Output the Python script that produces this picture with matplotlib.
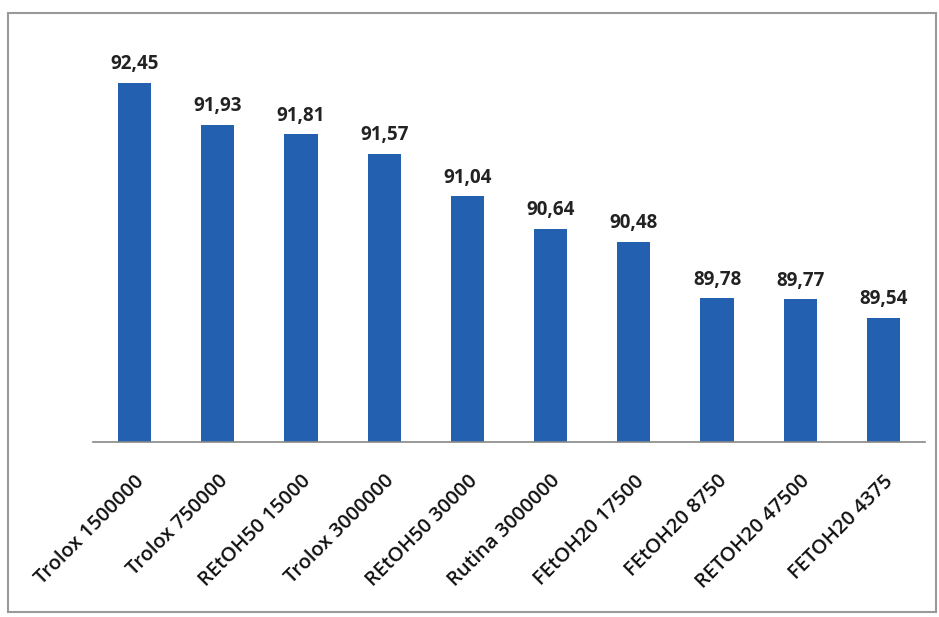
import matplotlib.pyplot as plt
from matplotlib.patches import Rectangle

# data
categorias = ['Trolox 1500000', 'Trolox 750000', 'REtOH50 15000', 'Trolox 3000000',
              'REtOH50 30000', 'Rutina 3000000', 'FEtOH20 17500', 'FEtOH20 8750',
              'RETOH20 47500', 'FETOH20 4375']
valores = [92.45, 91.93, 91.81, 91.57, 91.04, 90.64, 90.48, 89.78, 89.77, 89.54]

plt.rcParams['font.family'] = ['Open Sans', 'DejaVu Sans']

W, H = 939, 617
fig = plt.figure(figsize=(W / 100, H / 100), dpi=100)
ax = fig.add_axes([93 / W, 1 - 442 / H, (925 - 93) / W, (442 - 60) / H])

x = range(len(categorias))
bars = ax.bar(x, valores, width=0.4, color='#2360B0', bottom=0)
ax.set_xlim(-0.5, len(categorias) - 0.5)
ax.set_ylim(88.0, 92.73)

for xi, v in zip(x, valores):
    ax.annotate(f'{v:.2f}'.replace('.', ','), (xi, v), xytext=(0, 6),
                textcoords='offset points', ha='center', va='bottom',
                fontsize=13.5, fontweight='bold', color='#222222')

ax.set_xticks(list(x))
ax.set_xticklabels(categorias, rotation=45, ha='right', rotation_mode='anchor',
                   fontsize=14.5, fontweight='semibold', color='#111111')
ax.tick_params(axis='x', length=0, pad=21)
ax.set_yticks([])
for s in ['left', 'right', 'top']:
    ax.spines[s].set_visible(False)
ax.spines['bottom'].set_color('#888888')
ax.spines['bottom'].set_linewidth(1.2)

# outer frame
fig.patches.append(Rectangle((8 / W, 1 - 612 / H), (936 - 8) / W, (612 - 13) / H,
                             transform=fig.transFigure, fill=False,
                             edgecolor='#999999', linewidth=1.5))

fig.savefig('out.png', dpi=100)
